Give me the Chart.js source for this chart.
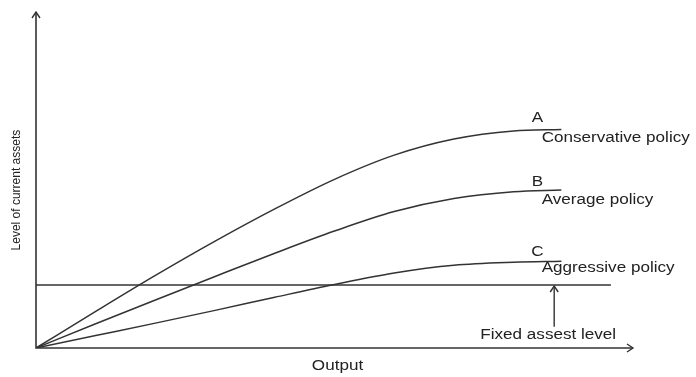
<!DOCTYPE html>
<html>
<head>
<meta charset="utf-8">
<script src="https://cdn.jsdelivr.net/npm/chart.js@4/dist/chart.umd.min.js"></script>
<style>
html,body{margin:0;padding:0;background:#fff;}
#wrap{width:696px;height:377px;position:relative;}
</style>
</head>
<body>
<div id="wrap"><canvas id="c" width="696" height="377"></canvas></div>
<script>
// Output levels (x) and current-asset levels per policy (y), arbitrary 0-100 units
const output = [0, 10, 20, 30, 40, 50, 60, 70, 80, 88];
const conservative = [0, 10.9, 21.6, 31.8, 41.4, 50.2, 57.4, 62.2, 64.6, 65.0];
const average = [0, 7.2, 14.3, 21.3, 28.2, 34.8, 40.6, 44.5, 46.5, 47.0];
const aggressive = [0, 3.7, 7.4, 11.2, 15.1, 18.9, 22.3, 24.6, 25.5, 25.8];
const fixedLevel = 18.75;
const fixedLineEnd = 96.3;
const curveLetters = ["A", "B", "C"];
const curveNames = ["Conservative policy", "Average policy", "Aggressive policy"];
const fixedLabel = "Fixed assest level";
const xTitle = "Output";
const yTitle = "Level of current assets";

const LINE = '#333333';
const FONT = '"Liberation Sans", Arial, sans-serif';
const STRETCH = 1.22;

const pts = arr => output.map((x, i) => ({x: x, y: arr[i]}));

function wideText(ctx, text, x, y, align) {
  const w = ctx.measureText(text).width * STRETCH;
  let left = x;
  if (align === 'center') left = x - w / 2;
  else if (align === 'right') left = x - w;
  ctx.save();
  ctx.textAlign = 'left';
  ctx.translate(left, y);
  ctx.scale(STRETCH, 1);
  ctx.fillText(text, 0, 0);
  ctx.restore();
}

const decor = {
  id: 'decor',
  afterDatasetsDraw(chart) {
    const ctx = chart.ctx;
    const a = chart.chartArea;
    const xs = chart.scales.x, ys = chart.scales.y;
    ctx.save();
    ctx.strokeStyle = LINE;
    ctx.fillStyle = LINE;
    ctx.lineWidth = 1.6;
    // axes
    ctx.beginPath();
    ctx.moveTo(a.left, a.top);
    ctx.lineTo(a.left, a.bottom);
    ctx.lineTo(a.right, a.bottom);
    ctx.stroke();
    ctx.lineWidth = 1.4;
    // y arrow head
    ctx.beginPath();
    ctx.moveTo(a.left - 4, a.top + 6);
    ctx.lineTo(a.left, a.top);
    ctx.lineTo(a.left + 4, a.top + 6);
    ctx.stroke();
    // x arrow head
    ctx.beginPath();
    ctx.moveTo(a.right - 6, a.bottom - 4);
    ctx.lineTo(a.right, a.bottom);
    ctx.lineTo(a.right - 6, a.bottom + 4);
    ctx.stroke();
    // fixed level pointer arrow
    const ax = xs.getPixelForValue(86.8);
    const ay0 = ys.getPixelForValue(6.3);
    const ay1 = ys.getPixelForValue(fixedLevel) + 1;
    ctx.beginPath();
    ctx.moveTo(ax, ay0);
    ctx.lineTo(ax, ay1);
    ctx.stroke();
    ctx.beginPath();
    ctx.moveTo(ax - 4, ay1 + 6);
    ctx.lineTo(ax, ay1);
    ctx.lineTo(ax + 4, ay1 + 6);
    ctx.stroke();

    // texts
    ctx.fillStyle = '#222';
    ctx.font = '14px ' + FONT;
    ctx.textBaseline = 'middle';
    const series = [conservative, average, aggressive];
    const letterDy = [-11, -8, -9];
    const nameDy = [9, 10, 7];
    series.forEach((s, i) => {
      const endY = ys.getPixelForValue(s[s.length - 1]);
      wideText(ctx, curveLetters[i], xs.getPixelForValue(84), endY + letterDy[i], 'center');
      wideText(ctx, curveNames[i], xs.getPixelForValue(84.7), endY + nameDy[i], 'left');
    });
    wideText(ctx, fixedLabel, xs.getPixelForValue(85.8), ys.getPixelForValue(3.9), 'center');
    wideText(ctx, xTitle, xs.getPixelForValue(50.5), a.bottom + 18, 'center');
    ctx.save();
    ctx.translate(17, ys.getPixelForValue(47));
    ctx.rotate(-Math.PI / 2);
    ctx.textAlign = 'center';
    ctx.font = '12px ' + FONT;
    ctx.fillText(yTitle, 0, 0);
    ctx.restore();
    ctx.restore();
  }
};

const lineDs = (data) => ({
  data: data,
  borderColor: LINE,
  borderWidth: 1.5,
  pointRadius: 0,
  fill: false,
  cubicInterpolationMode: 'monotone',
});

new Chart(document.getElementById('c'), {
  type: 'line',
  data: {
    datasets: [
      lineDs(pts(conservative)),
      lineDs(pts(average)),
      lineDs(pts(aggressive)),
      Object.assign(lineDs([{x: 0, y: fixedLevel}, {x: fixedLineEnd, y: fixedLevel}]), {borderWidth: 1.6})
    ]
  },
  options: {
    responsive: false,
    animation: false,
    layout: {padding: {left: 36, right: 63, top: 12, bottom: 29}},
    plugins: {legend: {display: false}, tooltip: {enabled: false}},
    scales: {
      x: {type: 'linear', min: 0, max: 100, display: false},
      y: {type: 'linear', min: 0, max: 100, display: false}
    }
  },
  plugins: [decor]
});
</script>
</body>
</html>
